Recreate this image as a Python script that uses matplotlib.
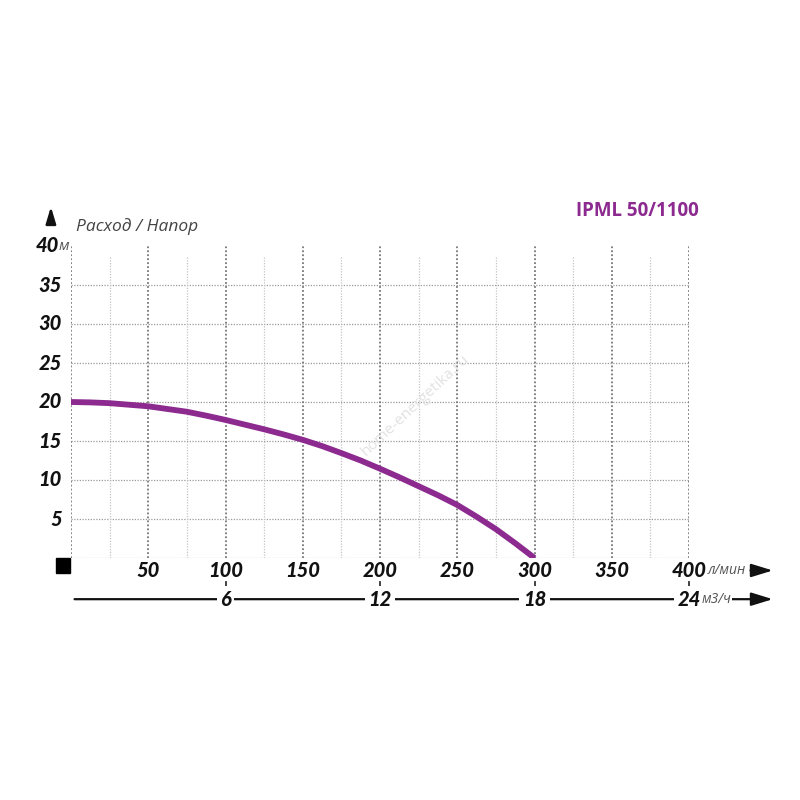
import matplotlib.pyplot as plt
import numpy as np

# расход, л/мин
flow = [0, 12.5, 25, 37.5, 50, 62.5, 75, 87.5, 100, 112.5, 125, 137.5, 150,
        162.5, 175, 187.5, 200, 212.5, 225, 237.5, 250, 262.5, 275, 287.5, 300]
# напор, м
head = [20.0, 19.95, 19.85, 19.65, 19.45, 19.1, 18.75, 18.25, 17.7, 17.1, 16.5,
        15.85, 15.15, 14.35, 13.45, 12.5, 11.45, 10.35, 9.2, 8.05, 6.8, 5.3,
        3.7, 1.9, 0.0]

x_ticks = [50, 100, 150, 200, 250, 300, 350, 400]
y_ticks = [5, 10, 15, 20, 25, 30, 35, 40]
m3h_ticks = [6, 12, 18, 24]

title = "IPML 50/1100"
curve_color = "#8c2a8f"
font = "Open Sans"
num_font = "Lato"


def draw_grid(ax):
    dots = (0, (1, 1.2))
    for y in [0] + y_ticks[:-1]:
        ax.plot([0, 400], [y, y], color="#9a9a9a", lw=0.9, ls=dots, zorder=1)
    for x in range(0, 401, 25):
        major = x % 50 == 0
        top = 40 if major else 38.6
        ax.plot([x, x], [0, top], color="#777777" if major else "#c4c4c4",
                lw=1.3 if major else 0.9, ls=dots, zorder=1)


def draw_axes_labels(ax):
    bt = ax.get_xaxis_transform()
    bold = dict(family=num_font, fontweight="black", fontstyle="italic", fontsize=14.5, color="#111111")
    unit = dict(family=font, fontstyle="italic", fontsize=10, color="#555555")
    arrow = dict(arrowstyle="-|>,head_length=1.3,head_width=0.4", color="#111111", lw=1.6)

    for y in y_ticks:
        ax.text(-6.0 if y != 40 else -8.0, y, str(y), ha="right", va="center", **bold)
    ax.text(-8.0, 40, "м", ha="left", va="center", fontsize=11,
            **{k: v for k, v in unit.items() if k != "fontsize"})

    for x in x_ticks:
        ax.text(x, -0.04, str(x), ha="center", va="center", transform=bt, **bold)
    ax.text(412, -0.04, "л/мин", ha="left", va="center", transform=bt, **unit)
    ax.annotate("", xy=(456, -0.04), xytext=(438, -0.04), xycoords=bt, arrowprops=arrow)

    # вторая шкала, м3/ч
    ax.annotate("", xy=(456, -0.132), xytext=(0.5, -0.132), xycoords=bt, arrowprops=arrow)
    box = dict(facecolor="white", edgecolor="none", pad=2.5)
    for m in m3h_ticks:
        x = m * 1000 / 60
        ax.plot([x, x], [-0.077, -0.095], transform=bt, color="#333333", lw=1.3, clip_on=False)
        ax.text(x, -0.132, str(m), ha="center", va="center", transform=bt, bbox=box, **bold)
    ax.text(408, -0.132, "м3/ч", ha="left", va="center", transform=bt,
            bbox=dict(facecolor="white", edgecolor="none", pad=0.5), **unit)

    ax.add_patch(plt.Rectangle((-9.7, -0.048), 9.3, 0.048, transform=bt,
                               color="black", clip_on=False))

    ax.annotate("", xy=(-13, 1.135), xytext=(-13, 1.07), xycoords=bt,
                arrowprops=dict(arrowstyle="-|>,head_length=1.0,head_width=0.3",
                                color="#111111", lw=1.8))
    ax.text(3, 1.064, "Расход / Напор", ha="left", va="center", transform=bt,
            family=font, fontstyle="italic", fontsize=12.5, color="#444444")
    ax.text(406, 1.112, title, ha="right", va="center", transform=bt,
            family=font, fontweight="bold", fontsize=13.5, color=curve_color)


def main():
    fig = plt.figure(figsize=(8, 8), dpi=100)
    ax = fig.add_axes([71 / 800, 1 - 558 / 800, 618 / 800, 312 / 800])
    ax.set_xlim(0, 400)
    ax.set_ylim(0, 40)
    ax.axis("off")

    draw_grid(ax)
    ax.plot(flow, head, color=curve_color, lw=4.2, solid_capstyle="butt",
            solid_joinstyle="round", zorder=3)
    draw_axes_labels(ax)

    fig.text(415 / 800, 1 - 405 / 800, "home-energetika.ru", rotation=43,
             ha="center", va="center", fontsize=11, color="#e2e2e2", family=font, zorder=0)

    fig.savefig("out.png", dpi=100)
    plt.close(fig)


if __name__ == "__main__":
    main()
